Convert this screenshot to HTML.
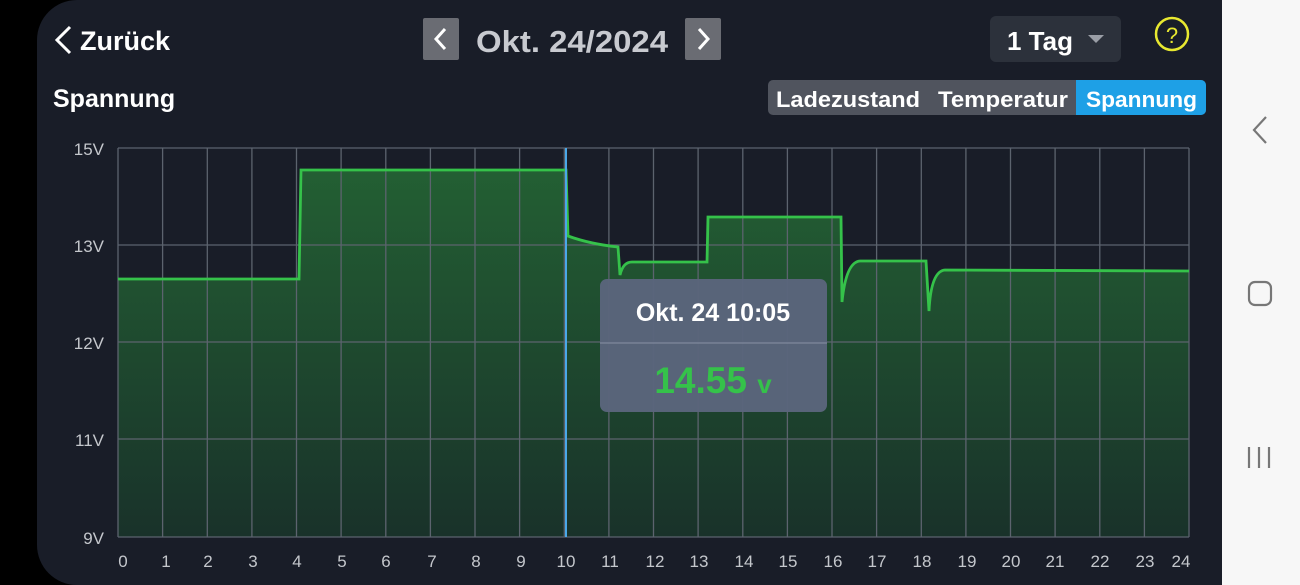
<!DOCTYPE html>
<html><head><meta charset="utf-8"><style>
html,body{margin:0;padding:0;width:1300px;height:585px;overflow:hidden;background:#000;font-family:"Liberation Sans",sans-serif;}
.panel{position:absolute;left:37px;top:0;width:1185px;height:585px;background:#191d28;border-radius:40px 0 0 40px;}
.side{position:absolute;left:1222px;top:0;width:78px;height:585px;background:#f7f7f7;}
</style></head><body>
<div class="panel"></div>
<div class="side"></div>
<svg width="1300" height="585" style="position:absolute;left:0;top:0" font-family="Liberation Sans, sans-serif">
<defs><linearGradient id="g" x1="0" y1="0" x2="0" y2="1"><stop offset="0" stop-color="#235f33"/><stop offset="1" stop-color="#19322a"/></linearGradient></defs>
<polyline points="70,27 57,40 70,53" fill="none" stroke="#fff" stroke-width="3"/>
<text x="80" y="50" fill="#fff" font-size="27" font-weight="bold">Zurück</text>
<rect x="423" y="18" width="36" height="42" rx="2" fill="#6a6c73"/>
<polyline points="445,29 436,39 445,49" fill="none" stroke="#fff" stroke-width="3"/>
<text x="476" y="52" fill="#c8cad0" font-size="31" font-weight="bold" textLength="192" lengthAdjust="spacingAndGlyphs">Okt. 24/2024</text>
<rect x="685" y="18" width="36" height="42" rx="2" fill="#6a6c73"/>
<polyline points="699,29 708,39 699,49" fill="none" stroke="#fff" stroke-width="3"/>
<rect x="990" y="16" width="131" height="46" rx="6" fill="#2c313b"/>
<text x="1007" y="50" fill="#fff" font-size="26" font-weight="bold">1 Tag</text>
<polygon points="1088,35 1104,35 1096,43" fill="#9a9ea6"/>
<circle cx="1172" cy="34" r="16" fill="none" stroke="#e8e830" stroke-width="2.5"/>
<text x="1172" y="43" fill="#e8e830" font-size="22" text-anchor="middle">?</text>
<text x="53" y="107" fill="#fff" font-size="25" font-weight="bold">Spannung</text>
<rect x="768" y="80" width="438" height="35" rx="5" fill="#50545e"/>
<path d="M1076,80 H1201 a5,5 0 0 1 5,5 V110 a5,5 0 0 1 -5,5 H1076 Z" fill="#1ea0e6"/>
<text x="776" y="107" fill="#fff" font-size="22" font-weight="bold" textLength="144" lengthAdjust="spacingAndGlyphs">Ladezustand</text>
<text x="938" y="107" fill="#fff" font-size="22" font-weight="bold" textLength="130" lengthAdjust="spacingAndGlyphs">Temperatur</text>
<text x="1086" y="107" fill="#fff" font-size="22" font-weight="bold" textLength="111" lengthAdjust="spacingAndGlyphs">Spannung</text>
<polyline points="1266,117 1254,130 1266,143" fill="none" stroke="#777" stroke-width="2.2"/>
<rect x="1249" y="282" width="22" height="23" rx="6" fill="none" stroke="#777" stroke-width="2.2"/>
<g stroke="#777" stroke-width="2.2"><line x1="1249" y1="447" x2="1249" y2="468"/><line x1="1259" y1="447" x2="1259" y2="468"/><line x1="1269" y1="447" x2="1269" y2="468"/></g>
<path d="M118,279 L299,279 L301,170 L566,170 L568,236 Q590,244 618,247 L620,275 Q623,262 632,262 L707,262 L708,217 L841,217 L842,302 Q846,262 860,261 L926,261 L929,311 Q931,271 945,270 L1189,271 L1189,537 L118,537 Z" fill="url(#g)"/>
<g stroke="#5c636e" stroke-width="1.3">
<line x1="118" y1="148" x2="1189" y2="148"/><line x1="118" y1="245" x2="1189" y2="245"/><line x1="118" y1="342" x2="1189" y2="342"/><line x1="118" y1="439" x2="1189" y2="439"/><line x1="118" y1="537" x2="1189" y2="537"/>
<line x1="118.0" y1="148" x2="118.0" y2="537"/><line x1="162.6" y1="148" x2="162.6" y2="537"/><line x1="207.3" y1="148" x2="207.3" y2="537"/><line x1="251.9" y1="148" x2="251.9" y2="537"/><line x1="296.5" y1="148" x2="296.5" y2="537"/><line x1="341.1" y1="148" x2="341.1" y2="537"/><line x1="385.8" y1="148" x2="385.8" y2="537"/><line x1="430.4" y1="148" x2="430.4" y2="537"/><line x1="475.0" y1="148" x2="475.0" y2="537"/><line x1="519.6" y1="148" x2="519.6" y2="537"/><line x1="564.3" y1="148" x2="564.3" y2="537"/><line x1="608.9" y1="148" x2="608.9" y2="537"/><line x1="653.5" y1="148" x2="653.5" y2="537"/><line x1="698.1" y1="148" x2="698.1" y2="537"/><line x1="742.8" y1="148" x2="742.8" y2="537"/><line x1="787.4" y1="148" x2="787.4" y2="537"/><line x1="832.0" y1="148" x2="832.0" y2="537"/><line x1="876.6" y1="148" x2="876.6" y2="537"/><line x1="921.3" y1="148" x2="921.3" y2="537"/><line x1="965.9" y1="148" x2="965.9" y2="537"/><line x1="1010.5" y1="148" x2="1010.5" y2="537"/><line x1="1055.1" y1="148" x2="1055.1" y2="537"/><line x1="1099.8" y1="148" x2="1099.8" y2="537"/><line x1="1144.4" y1="148" x2="1144.4" y2="537"/><line x1="1189.0" y1="148" x2="1189.0" y2="537"/>
</g>
<path d="M118,279 L299,279 L301,170 L566,170 L568,236 Q590,244 618,247 L620,275 Q623,262 632,262 L707,262 L708,217 L841,217 L842,302 Q846,262 860,261 L926,261 L929,311 Q931,271 945,270 L1189,271" fill="none" stroke="#35c24a" stroke-width="2.8"/>
<line x1="566" y1="148" x2="566" y2="537" stroke="#4aa8e8" stroke-width="2"/>
<g fill="#c4c7cc" font-size="17" text-anchor="end">
<text x="104" y="155">15V</text><text x="104" y="252">13V</text><text x="104" y="349">12V</text><text x="104" y="446">11V</text><text x="104" y="544">9V</text></g>
<g fill="#c4c7cc" font-size="17" text-anchor="middle">
<text x="123" y="567">0</text><text x="166" y="567">1</text><text x="208" y="567">2</text><text x="253" y="567">3</text><text x="297" y="567">4</text><text x="342" y="567">5</text><text x="386" y="567">6</text><text x="432" y="567">7</text><text x="476" y="567">8</text><text x="521" y="567">9</text><text x="566" y="567">10</text><text x="610" y="567">11</text><text x="655" y="567">12</text><text x="699" y="567">13</text><text x="744" y="567">14</text><text x="788" y="567">15</text><text x="833" y="567">16</text><text x="877" y="567">17</text><text x="922" y="567">18</text><text x="967" y="567">19</text><text x="1011" y="567">20</text><text x="1055" y="567">21</text><text x="1100" y="567">22</text><text x="1145" y="567">23</text><text x="1181" y="567">24</text></g>
<rect x="600" y="279" width="227" height="133" rx="7" fill="#5a657c" opacity="0.97"/>
<line x1="600" y1="343" x2="827" y2="343" stroke="#8891a4" stroke-width="1"/>
<text x="713" y="321" fill="#fff" font-size="25" font-weight="bold" text-anchor="middle">Okt. 24 10:05</text>
<text x="713" y="393" fill="#35c24a" font-size="37" font-weight="bold" text-anchor="middle">14.55 <tspan font-size="26">v</tspan></text>
</svg>
</body></html>
